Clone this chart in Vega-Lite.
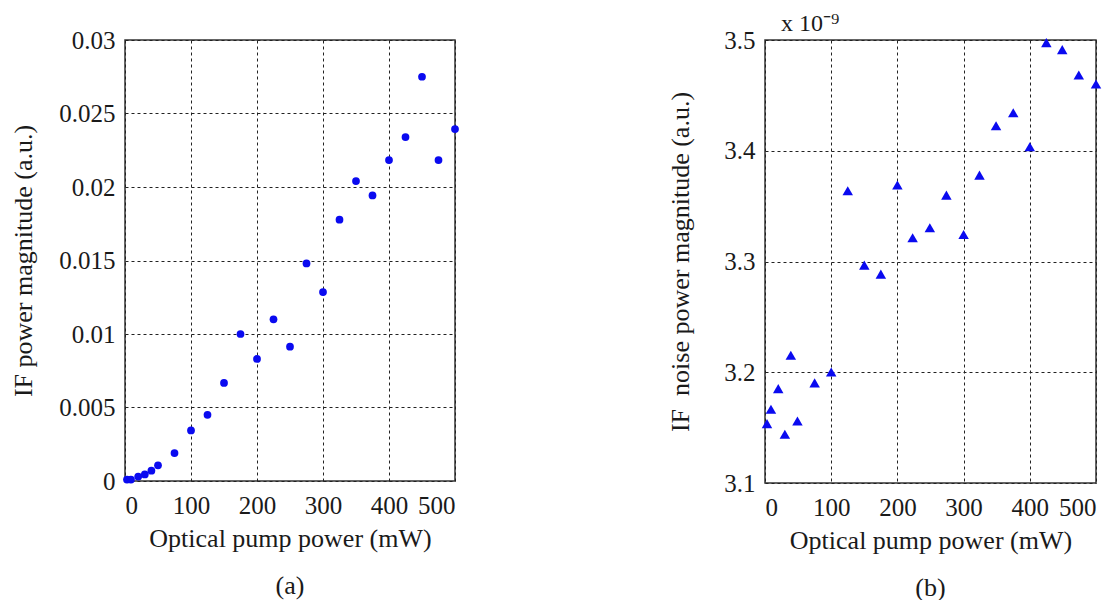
{
  "$schema": "https://vega.github.io/schema/vega-lite/v6.json",
  "background": "white",
  "padding": {"left": 10, "top": 11, "right": 5, "bottom": 2},
  "spacing": 207,
  "config": {
    "font": "Times New Roman, Liberation Serif, serif",
    "view": {"stroke": "#333333", "strokeWidth": 1.5},
    "axis": {
      "labelFont": "Times New Roman, Liberation Serif, serif",
      "titleFont": "Times New Roman, Liberation Serif, serif",
      "labelFontSize": 25,
      "titleFontSize": 26,
      "titleFontWeight": "normal",
      "labelColor": "#1a1a1a",
      "titleColor": "#1a1a1a",
      "ticks": false,
      "domain": false,
      "grid": true,
      "gridColor": "#222222",
      "gridDash": [3, 3],
      "gridWidth": 1,
      "gridOpacity": 1
    },
    "title": {"font": "Times New Roman, Liberation Serif, serif", "fontSize": 26, "fontWeight": "normal", "color": "#1a1a1a"}
  },
  "datasets": {
    "a": [
      {"pump": 3, "if_power": 0.0001},
      {"pump": 9, "if_power": 0.0001},
      {"pump": 20, "if_power": 0.0003},
      {"pump": 30, "if_power": 0.00045},
      {"pump": 40, "if_power": 0.0007},
      {"pump": 50, "if_power": 0.00107},
      {"pump": 75, "if_power": 0.0019},
      {"pump": 100, "if_power": 0.00344},
      {"pump": 125, "if_power": 0.0045},
      {"pump": 150, "if_power": 0.00667},
      {"pump": 175, "if_power": 0.0100},
      {"pump": 200, "if_power": 0.0083},
      {"pump": 225, "if_power": 0.0110},
      {"pump": 250, "if_power": 0.00914},
      {"pump": 275, "if_power": 0.0148},
      {"pump": 300, "if_power": 0.01285},
      {"pump": 325, "if_power": 0.01778},
      {"pump": 350, "if_power": 0.0204},
      {"pump": 375, "if_power": 0.01943},
      {"pump": 400, "if_power": 0.02183},
      {"pump": 425, "if_power": 0.0234},
      {"pump": 450, "if_power": 0.0275},
      {"pump": 475, "if_power": 0.02183},
      {"pump": 500, "if_power": 0.02394}
    ],
    "b": [
      {"pump": 3, "noise": 3.1536},
      {"pump": 9, "noise": 3.1666},
      {"pump": 20, "noise": 3.1852},
      {"pump": 30, "noise": 3.144},
      {"pump": 39, "noise": 3.2154},
      {"pump": 49, "noise": 3.156},
      {"pump": 75, "noise": 3.1904},
      {"pump": 100, "noise": 3.2003},
      {"pump": 125, "noise": 3.3639},
      {"pump": 150, "noise": 3.2967},
      {"pump": 175, "noise": 3.2886},
      {"pump": 200, "noise": 3.369},
      {"pump": 223, "noise": 3.3214},
      {"pump": 249, "noise": 3.3304},
      {"pump": 274, "noise": 3.3599},
      {"pump": 300, "noise": 3.3244},
      {"pump": 324, "noise": 3.378},
      {"pump": 349, "noise": 3.4226},
      {"pump": 375, "noise": 3.4343},
      {"pump": 400, "noise": 3.4036},
      {"pump": 425, "noise": 3.4976},
      {"pump": 449, "noise": 3.4913},
      {"pump": 474, "noise": 3.4684},
      {"pump": 500, "noise": 3.4602}
    ]
  },
  "hconcat": [
    {
      "width": 330,
      "height": 441,
      "title": {"text": "(a)", "orient": "bottom", "offset": 22},
      "data": {"name": "a"},
      "mark": {"type": "circle", "size": 60, "color": "#0a0af0", "opacity": 1},
      "encoding": {
        "x": {
          "field": "pump", "type": "quantitative",
          "scale": {"domain": [0, 500], "nice": false, "zero": false},
          "axis": {"values": [0, 100, 200, 300, 400, 500], "title": "Optical pump power (mW)", "labelPadding": 12, "titlePadding": 7}
        },
        "y": {
          "field": "if_power", "type": "quantitative",
          "scale": {"domain": [0, 0.03], "nice": false},
          "axis": {"values": [0, 0.005, 0.01, 0.015, 0.02, 0.025, 0.03], "format": "~g", "title": "IF power magnitude (a.u.)", "labelPadding": 10, "titlePadding": 22}
        }
      }
    },
    {
      "width": 331,
      "height": 443,
      "title": {"text": "(b)", "orient": "bottom", "offset": 22},
      "layer": [
        {
          "data": {"name": "b"},
          "mark": {"type": "point", "shape": "triangle-up", "size": 110, "filled": true, "color": "#0a0af0", "opacity": 1},
          "encoding": {
            "x": {
              "field": "pump", "type": "quantitative",
              "scale": {"domain": [0, 500], "nice": false, "zero": false},
              "axis": {"values": [0, 100, 200, 300, 400, 500], "title": "Optical pump power (mW)", "labelPadding": 12, "titlePadding": 7}
            },
            "y": {
              "field": "noise", "type": "quantitative",
              "scale": {"domain": [3.1, 3.5], "nice": false, "zero": false},
              "axis": {"values": [3.1, 3.2, 3.3, 3.4, 3.5], "format": ".1f", "title": "IF\u00a0 noise power magnitude (a.u.)", "labelPadding": 10, "titlePadding": 30}
            }
          }
        },
        {
          "data": {"values": [{}]},
          "mark": {"type": "text", "align": "left", "baseline": "bottom", "dx": 16, "dy": -4, "fontSize": 24, "font": "Times New Roman, Liberation Serif, serif", "color": "#1a1a1a", "clip": false},
          "encoding": {
            "x": {"datum": 0},
            "y": {"datum": 3.5},
            "text": {"value": "x 10\u207b\u2079"}
          }
        }
      ]
    }
  ]
}
